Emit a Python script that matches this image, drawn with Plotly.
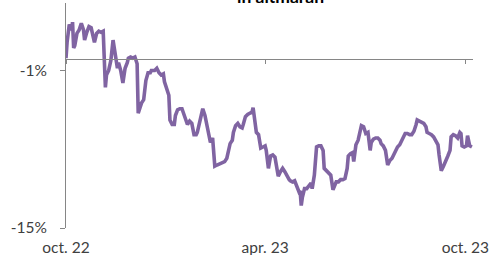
import plotly.graph_objects as go
import pandas as pd

title_text = "in altmaran"
start_date = "2022-10-01"
# day offsets from start_date
days = [0, 1, 3, 5, 6, 7, 8, 10, 12, 14, 16, 17, 19, 21, 23, 25, 26, 28, 30, 32, 34,
        36, 37, 39, 41, 43, 45, 47, 48, 50, 52, 54, 56, 57, 59, 61, 63, 65, 66, 68, 69,
        71, 73, 75, 77, 78, 81, 83, 85, 87, 89, 90, 92, 94, 95, 97, 99, 100, 102, 104,
        106, 108, 110, 111, 113, 115, 117, 119, 120, 122, 124, 125, 127, 129, 131, 132,
        134, 136, 138, 140, 141, 143, 145, 147, 149, 150, 152, 153, 155, 157, 159, 161,
        162, 164, 166, 168, 170, 171, 173, 174, 176, 178, 180, 182, 183, 185, 187, 189,
        191, 193, 194, 196, 198, 200, 202, 204, 205, 207, 209, 211, 213, 214, 215, 216,
        218, 220, 222, 224, 225, 227, 229, 231, 233, 235, 236, 238, 240, 242, 244, 246,
        247, 249, 251, 253, 255, 257, 258, 260, 262, 263, 265, 267, 268, 270, 272, 274,
        276, 278, 279, 281, 283, 285, 287, 288, 290, 292, 294, 296, 298, 299, 301, 303,
        305, 307, 309, 310, 312, 314, 316, 318, 320, 321, 323, 325, 327, 329, 330, 332,
        334, 336, 338, 340, 341, 343, 345, 347, 349, 351, 352, 354, 356, 358, 360, 361,
        362, 364, 366, 367, 369, 371]
values = [0.1, 1.5, 3.1, 2.6, 3.3, 1.0, 1.2, 2.3, 2.6, 3.2, 2.6, 1.7, 2.4, 2.9, 2.8, 2.1, 1.5,
          2.3, 2.5, 2.4, 2.5, -2.5, -1.4, -1.0, -0.1, 1.7, 0.2, -0.8, -0.3, -1.0, -2.1, -0.8,
          -0.3, 0.1, 0.2, 0.1, 0.2, -0.4, -4.8, -4.0, -3.9, -3.6, -1.9, -1.2, -1.2, -1.0,
          -1.0, -0.8, -1.2, -1.4, -1.3, -2.0, -2.5, -3.2, -5.4, -5.8, -5.8, -5.0, -4.5, -4.4,
          -4.4, -4.9, -5.6, -5.8, -5.5, -5.7, -6.7, -6.7, -6.5, -5.6, -4.5, -4.4, -5.0, -6.0,
          -7.2, -7.4, -7.0, -9.5, -9.4, -9.3, -9.3, -9.2, -9.1, -8.8, -8.1, -7.5, -7.2, -6.5,
          -5.9, -5.7, -6.0, -6.1, -5.8, -5.1, -4.9, -4.8, -4.7, -4.3, -6.3, -6.5, -6.7, -7.9,
          -7.8, -7.7, -8.1, -9.7, -8.6, -8.5, -8.7, -9.6, -10.4, -10.0, -9.7, -10.0, -10.4,
          -10.7, -10.8, -10.9, -10.8, -11.3, -11.8, -11.7, -13.0, -12.3, -11.5, -11.5, -11.3,
          -11.0, -11.5, -10.3, -7.8, -7.7, -7.7, -8.1, -9.7, -9.9, -10.0, -10.3, -11.6, -11.0,
          -10.9, -10.9, -10.7, -10.7, -10.6, -9.7, -8.6, -8.4, -8.3, -9.1, -7.6, -7.2, -6.7,
          -5.9, -6.0, -6.6, -6.5, -8.1, -7.4, -7.1, -7.0, -7.0, -7.2, -7.5, -7.7, -8.1, -9.4,
          -9.0, -8.8, -8.6, -8.1, -7.8, -7.6, -7.2, -6.7, -6.6, -6.6, -6.7, -6.7, -6.4, -5.8,
          -5.4, -5.5, -5.6, -5.7, -6.0, -6.5, -6.6, -6.7, -6.9, -7.2, -7.6, -8.5, -9.9, -9.5,
          -9.1, -8.6, -8.1, -6.9, -6.7, -6.8, -7.0, -6.5, -6.6, -7.7, -7.8, -7.7, -6.8, -7.7,
          -7.8]
x_tickvals = ["2022-10-01", "2023-04-01", "2023-10-01"]
x_ticktext = ["oct. 22", "apr. 23", "oct. 23"]
y_tickvals = [-15, -1]
y_ticktext = ["-15%", "-1%"]
x_range = ["2022-10-01", "2023-10-08"]
y_range = [-15, 5]

dates = pd.to_datetime(start_date) + pd.to_timedelta(days, unit="D")

FONT = "Lato"
GRAY = "#868686"
TXT = "#404040"

fig = go.Figure()
fig.add_trace(go.Scatter(x=dates, y=values, mode="lines",
                         line=dict(color="#8064A2", width=3.6), hoverinfo="skip",
                         showlegend=False))
# invisible trace to register the zero-crossing axis
fig.add_trace(go.Scatter(x=dates, y=values, xaxis="x2", mode="lines",
                         line=dict(color="rgba(0,0,0,0)", width=0), hoverinfo="skip",
                         showlegend=False))

zero_pos = (0 - y_range[0]) / (y_range[1] - y_range[0])

fig.update_layout(
    width=494, height=255,
    margin=dict(l=66, r=21, t=3, b=27, autoexpand=False),
    paper_bgcolor="white", plot_bgcolor="white",
    font=dict(family=FONT, size=15, color=TXT),
    hovermode=False,
    xaxis=dict(type="date", range=x_range, tickvals=x_tickvals, ticktext=x_ticktext,
               showgrid=False, zeroline=False, showline=False, automargin=False,
               ticks="outside", ticklen=5, tickcolor="rgba(0,0,0,0)",
               tickfont=dict(family=FONT, size=15.5, color=TXT)),
    xaxis2=dict(type="date", range=x_range, overlaying="x", anchor="free",
                position=zero_pos, side="bottom", tickvals=x_tickvals,
                showticklabels=False, showgrid=False, zeroline=False,
                showline=True, linecolor=GRAY, linewidth=1,
                ticks="outside", ticklen=4, tickcolor=GRAY, tickwidth=1),
    yaxis=dict(range=y_range, tickvals=y_tickvals, ticktext=y_ticktext,
               showgrid=False, zeroline=False, showline=True, linecolor=GRAY,
               linewidth=1, ticks="outside", ticklen=5, tickcolor=GRAY,
               ticklabelstandoff=10, automargin=False,
               tickfont=dict(family=FONT, size=15.5, color=TXT)),
    annotations=[dict(text="<b>" + title_text + "</b>", xref="paper", yref="paper",
                      x=0.528, y=1, xanchor="center", yanchor="bottom", yshift=-6,
                      showarrow=False, font=dict(family=FONT, size=17.5, color="#000000"))],
)

fig.write_html("out.html", config={"displayModeBar": False},
               post_script="document.body.style.margin='0';document.body.style.padding='0';document.body.style.overflow='hidden';")
